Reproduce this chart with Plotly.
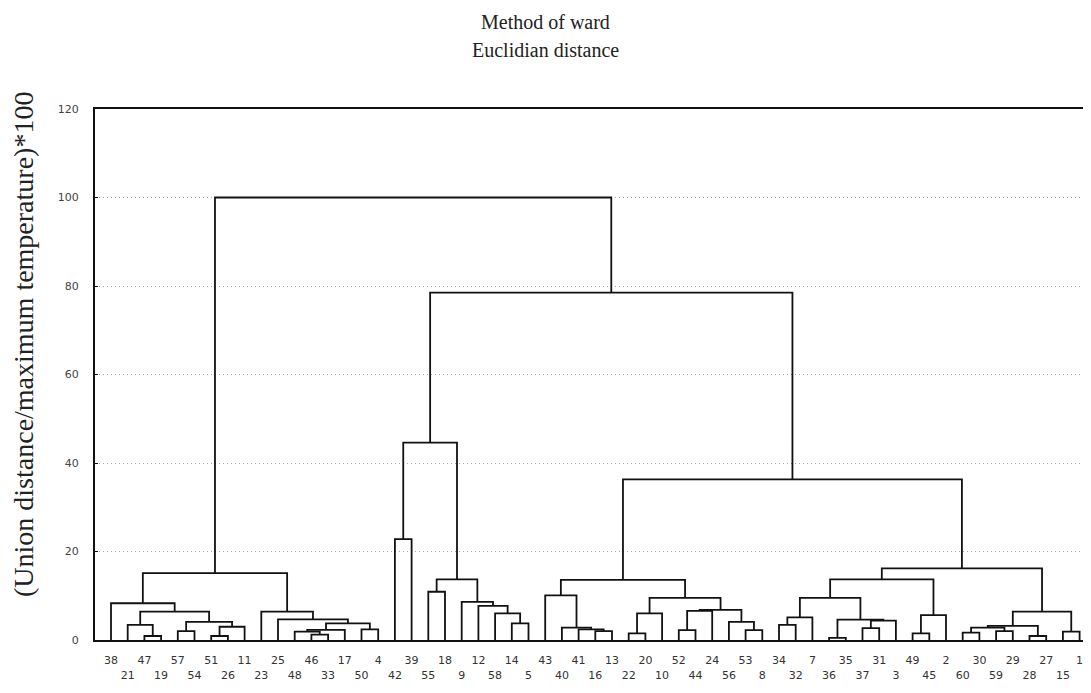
import plotly.graph_objects as go

# Leaf order along the x axis (leaf 6 lies beyond the cropped right edge)
leaf_order = [38, 21, 47, 19, 57, 54, 51, 26, 11, 23, 25, 48, 46, 33, 17, 50, 4, 42,
              39, 55, 18, 9, 12, 58, 14, 5, 43, 40, 41, 16, 13, 22, 20, 10, 52, 44,
              24, 56, 53, 8, 34, 32, 7, 36, 35, 37, 31, 3, 49, 45, 2, 60, 30, 59,
              29, 28, 27, 15, 1]

# Merges: ints are leaf labels, "cN" refers to merge N
merge_left = [47, 21, 57, 51, "c3", "c2", "c1", 38,
              46, 48, "c9", 50, "c10", 25, 23, "c7",
              42, 55, 14, 58, 12, 9, "c17", "c16",
              16, 41, 40, 43, 22, "c28", 52, "c30", 53, 56, "c31", "c29", "c27",
              34, "c37", 36, 37, "c40", "c39", "c38", 49, "c44", "c43",
              60, 59, "c47", 28, "c49", 15, "c51", "c46", "c36", "c23", "c15"]
merge_right = [19, "c0", 54, 26, 11, "c4", "c5", "c6",
               33, "c8", 17, 4, "c11", "c12", "c13", "c14",
               39, 18, 5, "c18", "c19", "c20", "c21", "c22",
               13, "c24", "c25", "c26", 20, 10, 44, 24, 8, "c32", "c33", "c34", "c35",
               32, 7, 35, 31, 3, "c41", "c42", 45, 2, "c45",
               30, 29, "c48", 27, "c50", 1, "c52", "c53", "c54", "c55", "c56"]
merge_height = [0.9, 3.4, 2.0, 0.9, 3.0, 4.1, 6.4, 8.3,
                1.2, 1.9, 2.3, 2.4, 3.75, 4.65, 6.4, 15.1,
                22.8, 10.9, 3.75, 6.0, 7.7, 8.6, 13.7, 44.6,
                2.0, 2.4, 2.8, 10.1, 1.5, 6.0, 2.25, 6.6, 2.25, 4.1, 6.8, 9.5, 13.6,
                3.4, 5.1, 0.5, 2.7, 4.4, 4.6, 9.5, 1.5, 5.6, 13.7,
                1.65, 2.0, 2.8, 0.9, 3.2, 1.9, 6.4, 16.2, 36.3, 78.5, 100.0]

y_ticks = [0, 20, 40, 60, 80, 100, 120]
title_lines = ["Method of ward", "Euclidian distance"]
y_title = "(Union distance/maximum temperature)*100"

# ---- build dendrogram segments through the leaf index scale ----
leaf_pos = {lab: i for i, lab in enumerate(leaf_order)}
node_pos = {}


def node(ref):
    if isinstance(ref, str):
        return node_pos[ref]
    return (leaf_pos[ref], 0.0)


xs, ys = [], []
for i, (a, b, h) in enumerate(zip(merge_left, merge_right, merge_height)):
    xa, ha = node(a)
    xb, hb = node(b)
    xs += [xa, xa, xb, xb, None]
    ys += [ha, h, h, hb, None]
    node_pos[f"c{i}"] = ((xa + xb) / 2, h)

fig = go.Figure()
fig.add_trace(go.Scatter(x=xs, y=ys, mode="lines",
                         line=dict(color="#111111", width=1.8),
                         hoverinfo="skip", showlegend=False))

ticktext = [str(l) if i % 2 == 0 else "<br>" + str(l) for i, l in enumerate(leaf_order)]

# page body has an 8px default margin: the figure starts at (8, 8)
OFF = 8
W, H = 1091 - OFF, 693 - OFF
ml, mr, mt, mb = 95 - OFF, 0, 109 - OFF, 53
pw = W - ml - mr
ph = H - mt - mb
unit = 16.7
x0 = -(111 - 95) / unit
x1 = x0 + pw / unit

fig.update_layout(
    width=W, height=H,
    margin=dict(l=ml, r=mr, t=mt, b=mb, pad=0),
    paper_bgcolor="white", plot_bgcolor="white",
    showlegend=False,
    xaxis=dict(range=[x0, x1], tickvals=list(range(len(leaf_order))), ticktext=ticktext,
               tickangle=0, ticks="", showgrid=False, zeroline=False,
               showline=True, linecolor="#111111", linewidth=2, mirror=True,
               tickfont=dict(family="DejaVu Sans", size=11, color="#333333"),
               ticklabelstandoff=9),
    yaxis=dict(range=[0, 120], tickvals=y_ticks, ticks="inside", ticklen=3,
               tickcolor="#111111", showgrid=True, gridcolor="#a8a8a8",
               griddash="1px,3px", gridwidth=1, zeroline=False,
               showline=True, linecolor="#111111", linewidth=2, mirror=False,
               tickfont=dict(family="DejaVu Sans", size=11, color="#444444"),
               ticklabelstandoff=12),
)

# titles (positions given in page pixels)
px_to_paper_x = lambda px: (px - OFF - ml) / pw
px_to_paper_y = lambda py: (H - mb - (py - OFF)) / ph
for txt, py in zip(title_lines, [22, 50]):
    fig.add_annotation(text=txt, xref="paper", yref="paper",
                       x=px_to_paper_x(545), y=px_to_paper_y(py),
                       xanchor="center", yanchor="middle", showarrow=False,
                       font=dict(family="Liberation Serif", size=20, color="#222222"))
fig.add_annotation(text=y_title, xref="paper", yref="paper", textangle=-90,
                   x=px_to_paper_x(23), y=px_to_paper_y(345),
                   xanchor="center", yanchor="middle", showarrow=False,
                   font=dict(family="Liberation Serif", size=28, color="#222222"))

fig.write_html("out.html")
